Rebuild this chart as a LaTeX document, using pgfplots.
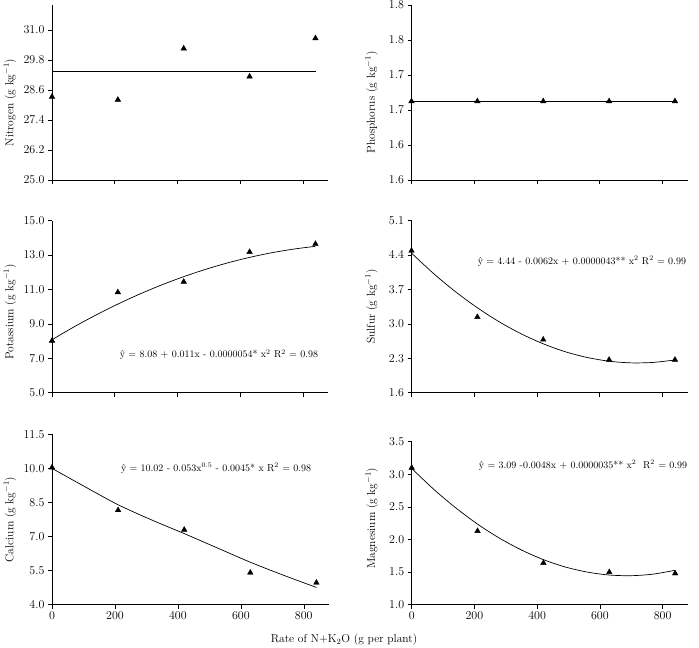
\documentclass[border=0pt]{standalone}
\usepackage{pgfplots}
\pgfplotsset{compat=1.18}
\tikzset{eq/.style={anchor=west, font=\fontsize{10}{12}\selectfont}}
\begin{document}
\begin{tikzpicture}
\useasboundingbox (0pt,0pt) rectangle (699pt,648pt);
\pgfplotsset{
  panel/.style={
    scale only axis, anchor=south west, clip=false,
    axis x line*=bottom, axis y line*=left,
    axis line style={-, black, line width=0.6pt},
    tick align=outside, major tick length=4pt,
    tick style={black, line width=0.5pt},
    xmin=0, xmax=880, xtick={0,200,400,600,800},
    tick label style={font=\fontsize{12}{14}\selectfont},
    yticklabel style={/pgf/number format/.cd, fixed, fixed zerofill, precision=1},
    label style={font=\fontsize{11.5}{14}\selectfont},
    ylabel style={at={(axis description cs:0,0.5)}, anchor=center},
  },
  notx/.style={xticklabels={}},
  obs/.style={only marks, mark=triangle*, mark size=3.2pt, black},
  fit/.style={smooth, no markers, black, line width=0.7pt},
}

% Nitrogen
\begin{axis}[panel, notx, at={(52pt,468pt)}, width=276pt, height=175pt,
  ymin=25, ymax=32, ytick={25,26.2,27.4,28.6,29.8,31},
  ylabel={Nitrogen (g kg$^{-1}$)}, ylabel style={yshift=42pt, xshift=-10pt}]
\addplot[fit] coordinates {(0,29.33) (840,29.33)};
\addplot[obs] coordinates {(0,28.33) (210,28.21) (420,30.26) (630,29.14) (840,30.67)};
\end{axis}

% Phosphorus
\begin{axis}[panel, notx, at={(411.5pt,468pt)}, width=276pt, height=175pt,
  ymin=1.60, ymax=1.80, ytick={1.60,1.64,1.68,1.72,1.76,1.80},
  yticklabels={1.6,1.6,1.7,1.7,1.8,1.8},
  ylabel={Phosphorus (g kg$^{-1}$)}, ylabel style={yshift=40pt, xshift=-10pt}]
\addplot[fit] coordinates {(0,1.69) (840,1.69)};
\addplot[obs] coordinates {(0,1.69) (210,1.69) (420,1.69) (630,1.69) (840,1.69)};
\end{axis}

% Potassium
\begin{axis}[panel, notx, at={(52pt,255.3pt)}, width=276pt, height=172pt,
  ymin=5, ymax=15, ytick={5,7,9,11,13,15},
  ylabel={Potassium (g kg$^{-1}$)}, ylabel style={yshift=42pt, xshift=-5pt}]
\addplot[fit] coordinates {(0,8.080) (70,8.824) (140,9.514) (210,10.152) (280,10.737)
  (350,11.269) (420,11.747) (490,12.173) (560,12.547) (630,12.867) (700,13.134)
  (770,13.348) (840,13.510)};
\addplot[obs] coordinates {(0,8.02) (210,10.84) (420,11.45) (630,13.18) (840,13.65)};
\node[eq] at (axis cs:205,7.2) {\^{y} = 8.08 + 0.011x - 0.0000054* x$^{2}$ R$^{2}$ = 0.98};
\end{axis}

% Sulfur
\begin{axis}[panel, notx, at={(411.5pt,255.3pt)}, width=276pt, height=172pt,
  ymin=1.6, ymax=5.1, ytick={1.6,2.3,3.0,3.7,4.4,5.1},
  ylabel={Sulfur (g kg$^{-1}$)}, ylabel style={yshift=40pt}]
\addplot[fit] coordinates {(0,4.440) (70,4.027) (140,3.656) (210,3.328) (280,3.041)
  (350,2.797) (420,2.595) (490,2.434) (560,2.317) (630,2.241) (700,2.207)
  (770,2.216) (840,2.266)};
\addplot[obs] coordinates {(0,4.49) (210,3.14) (420,2.68) (630,2.27) (840,2.27)};
\node[eq] at (axis cs:200,4.27) {\^{y} = 4.44 - 0.0062x + 0.0000043** x$^{2}$ R$^{2}$ = 0.99};
\end{axis}

% Calcium
\begin{axis}[panel, at={(52pt,43.3pt)}, width=277pt, height=170.4pt,
  ymin=4, ymax=11.5, ytick={4,5.5,7,8.5,10,11.5},
  ylabel={Calcium (g kg$^{-1}$)}, ylabel style={yshift=42pt}]
\addplot[fit] coordinates {(0,10.000) (105,9.190) (210,8.400) (315,7.740) (420,7.130)
  (525,6.500) (630,5.870) (735,5.300) (840,4.760)};
\addplot[obs] coordinates {(0,10.04) (210,8.16) (420,7.30) (630,5.41) (840,4.97)};
\node[eq] at (axis cs:208,10.01) {\^{y} = 10.02 - 0.053x$^{0.5}$ - 0.0045* x R$^{2}$ = 0.98};
\end{axis}

% Magnesium
\begin{axis}[panel, at={(411.7pt,43.3pt)}, width=276pt, height=163pt,
  ymin=1, ymax=3.5, ytick={1,1.5,2,2.5,3,3.5},
  ylabel={Magnesium (g kg$^{-1}$)}, ylabel style={yshift=40pt, xshift=5pt}]
\addplot[fit] coordinates {(0,3.090) (70,2.771) (140,2.487) (210,2.236) (280,2.020)
  (350,1.839) (420,1.691) (490,1.578) (560,1.500) (630,1.455) (700,1.445)
  (770,1.469) (840,1.528)};
\addplot[obs] coordinates {(0,3.10) (210,2.13) (420,1.64) (630,1.50) (840,1.48)};
\node[eq] at (axis cs:203,3.14) {\^{y} = 3.09 -0.0048x + 0.0000035** x$^{2}$~ R$^{2}$ = 0.99};
\end{axis}

\node[font=\fontsize{11.5}{14}\selectfont] at (344pt,8pt) {Rate of N+K$_2$O (g per plant)};
\end{tikzpicture}
\end{document}
